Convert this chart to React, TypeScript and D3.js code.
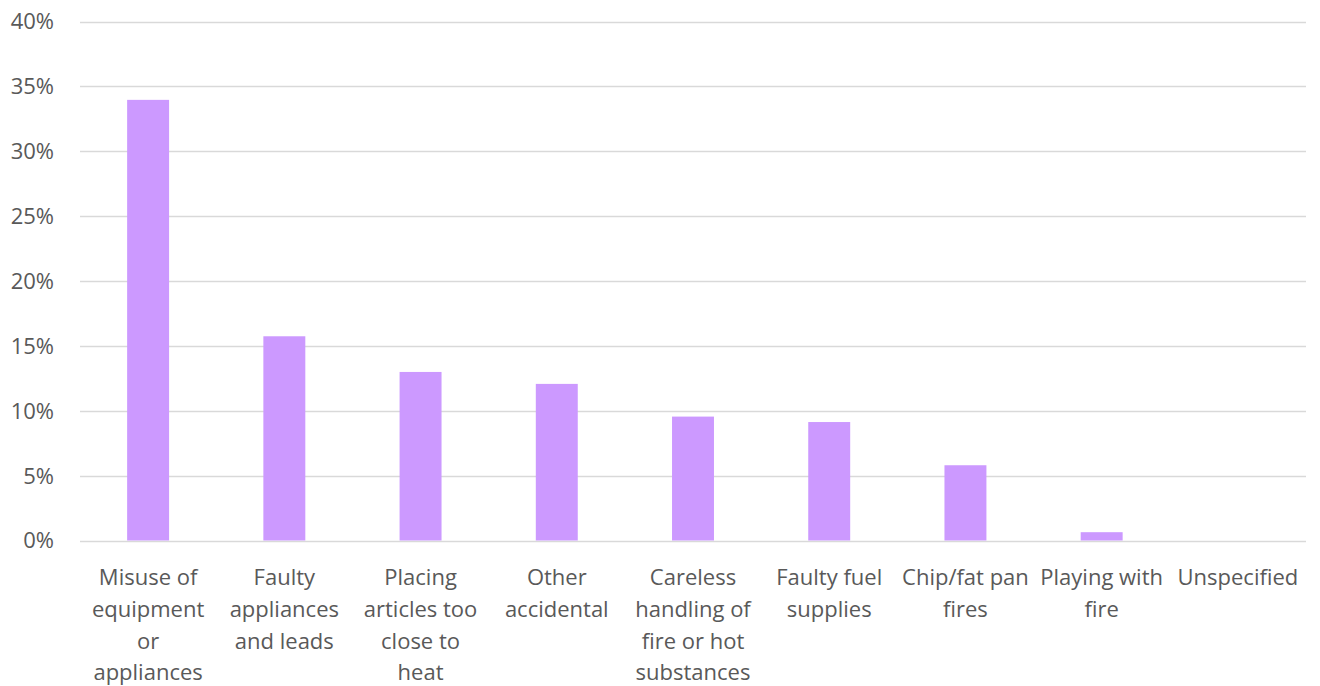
import React from "react";
import * as d3 from "d3";

// Share of accidental dwelling fires by cause (%)
const categories: string[] = [
  "Misuse of\nequipment\nor\nappliances",
  "Faulty\nappliances\nand leads",
  "Placing\narticles too\nclose to\nheat",
  "Other\naccidental",
  "Careless\nhandling of\nfire or hot\nsubstances",
  "Faulty fuel\nsupplies",
  "Chip/fat pan\nfires",
  "Playing with\nfire",
  "Unspecified",
];
const values: number[] = [33.96, 15.74, 12.99, 12.07, 9.55, 9.13, 5.8, 0.64, 0];
const yTicks: number[] = [0, 5, 10, 15, 20, 25, 30, 35, 40];

const W = 1320;
const H = 686;
const margin = { left: 80, right: 14, top: 21.5, bottom: 145.5 };

const FONT = "'Open Sans', 'DejaVu Sans', sans-serif";
const TEXT = "#595959";

export default function App() {
  const x = d3
    .scaleBand<string>()
    .domain(categories)
    .range([margin.left, W - margin.right])
    .paddingInner(0.692)
    .paddingOuter(0.346);
  const y = d3
    .scaleLinear()
    .domain([0, 40])
    .range([H - margin.bottom, margin.top]);

  return (
    <div style={{ position: "fixed", left: 0, top: 0, background: "#fff" }}>
      <svg width={W} height={H} style={{ display: "block" }}>
        <rect width={W} height={H} fill="#fff" />
        {yTicks.map((t) => (
          <g key={t}>
            <line
              x1={margin.left}
              x2={W - margin.right}
              y1={Math.round(y(t)) + 0.5}
              y2={Math.round(y(t)) + 0.5}
              stroke="#d9d9d9"
              strokeWidth={1.3}
            />
            <text
              x={54}
              y={y(t)}
              dy="0.36em"
              textAnchor="end"
              fontFamily={FONT}
              fontSize={22}
              fill={TEXT}
            >
              {`${t}%`}
            </text>
          </g>
        ))}
        {categories.map((c, i) => (
          <rect
            key={c}
            x={x(c)!}
            width={x.bandwidth()}
            y={y(values[i])}
            height={y(0) - y(values[i])}
            fill="#cc99ff"
          />
        ))}
        {categories.map((c) => {
          const cx = x(c)! + x.bandwidth() / 2;
          return (
            <text
              key={c}
              textAnchor="middle"
              fontFamily={FONT}
              fontSize={22}
              fill={TEXT}
            >
              {c.split("\n").map((line, j) => (
                <tspan key={j} x={cx} y={585 + j * 31.8}>
                  {line}
                </tspan>
              ))}
            </text>
          );
        })}
      </svg>
    </div>
  );
}
